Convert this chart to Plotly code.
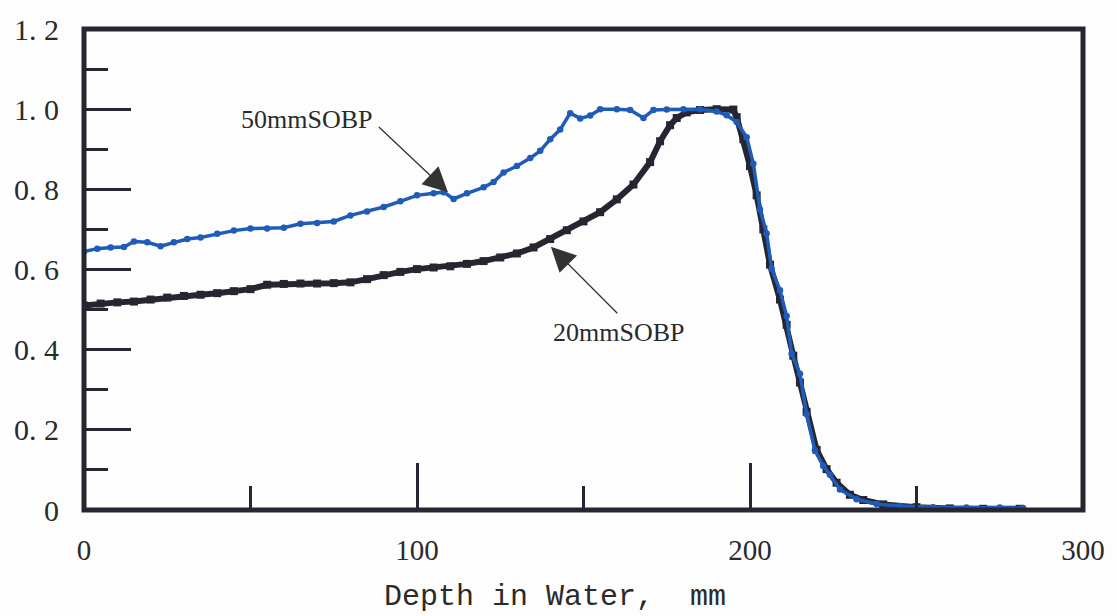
import plotly.graph_objects as go

# ---- data ----
sobp20_x = [0, 5, 10, 15, 20, 25, 30, 35, 40, 45, 50, 55, 60, 65, 70, 75, 80, 85, 90, 95,
            100, 105, 110, 115, 120, 125, 130, 135, 140, 145, 150, 155, 160, 165, 170,
            173, 176, 178, 181, 185, 190, 195, 196, 198, 200, 202, 204, 206, 209, 211,
            213, 215, 217, 220, 223, 226, 230, 234, 240, 250, 260, 270, 281]
sobp20_y = [0.510, 0.515, 0.518, 0.520, 0.525, 0.530, 0.534, 0.537, 0.541, 0.546, 0.551,
            0.562, 0.564, 0.565, 0.565, 0.566, 0.568, 0.576, 0.586, 0.594,
            0.601, 0.605, 0.608, 0.614, 0.621, 0.630, 0.640, 0.655, 0.676, 0.698,
            0.720, 0.743, 0.775, 0.812, 0.868,
            0.920, 0.960, 0.978, 0.992, 0.998, 1.000, 0.999, 0.980, 0.925, 0.858,
            0.785, 0.700, 0.612, 0.525, 0.462,
            0.385, 0.318, 0.245, 0.150, 0.102, 0.068, 0.038, 0.025, 0.014, 0.007,
            0.004, 0.003, 0.003]

sobp50_x = [0, 4, 8, 12, 15, 19, 23, 27, 31, 35, 40, 45, 50, 55, 60, 65, 70, 75, 80, 85,
            90, 95, 100, 105, 108, 111, 115, 120, 123, 126, 130, 134, 137, 140, 143,
            146, 149, 152, 155, 160, 164, 168, 171, 175, 180, 185, 190, 193, 196, 199,
            201, 203, 205, 206.5, 209, 211, 212.5, 215, 217, 219.5, 222, 224, 227, 232,
            238, 245, 255, 265, 275, 282]
sobp50_y = [0.645, 0.652, 0.655, 0.656, 0.670, 0.668, 0.658, 0.668, 0.676, 0.680,
            0.689, 0.697, 0.702, 0.702, 0.704, 0.714, 0.716, 0.720, 0.735, 0.745,
            0.756, 0.770, 0.785, 0.790, 0.793, 0.776, 0.790, 0.805, 0.818, 0.842,
            0.858, 0.878, 0.896, 0.925, 0.949,
            0.990, 0.977, 0.984, 1.000, 1.000, 0.998, 0.978, 0.998, 0.999, 1.000,
            1.000, 0.994, 0.985, 0.968, 0.930,
            0.864, 0.750, 0.690, 0.602, 0.548, 0.484, 0.390, 0.340, 0.239, 0.149,
            0.110, 0.088, 0.051, 0.027,
            0.015, 0.010, 0.007, 0.006, 0.006, 0.005]

y_tickvals = [0, 0.2, 0.4, 0.6, 0.8, 1.0, 1.2]
y_ticktext = ["0", "0. 2", "0. 4", "0. 6", "0. 8", "1. 0", "1. 2"]
x_tickvals = [0, 100, 200, 300]
x_ticktext = ["0", "100", "200", "300"]

DARK = "#262632"
BLUE = "#1f5cba"
TEXT = "#2a2a2a"

fig = go.Figure()
fig.add_trace(go.Scatter(
    x=sobp20_x, y=sobp20_y, mode="lines+markers", name="20mmSOBP",
    line=dict(color=DARK, width=6),
    marker=dict(symbol="square", size=8, color=DARK),
))
fig.add_trace(go.Scatter(
    x=sobp50_x, y=sobp50_y, mode="lines+markers", name="50mmSOBP",
    line=dict(color=BLUE, width=3.5),
    marker=dict(symbol="circle", size=6.5, color=BLUE),
))

fig.update_layout(
    width=1117, height=616,
    margin=dict(l=84, r=32, t=21, b=106),
    paper_bgcolor="#fefdfd", plot_bgcolor="#fefdfd",
    showlegend=False,
    xaxis=dict(
        range=[0, 300], showgrid=False, zeroline=False, showline=False,
        tickmode="array", tickvals=x_tickvals, ticktext=x_ticktext,
        ticks="inside", ticklen=47, tickwidth=3, tickcolor=DARK,
        minor=dict(dtick=50, ticks="inside", ticklen=24, tickwidth=3, tickcolor=DARK, showgrid=False),
        tickfont=dict(family="Liberation Serif", size=29, color=TEXT), ticklabelstandoff=20,
    ),
    yaxis=dict(
        range=[0, 1.2], showgrid=False, zeroline=False, showline=False,
        tickmode="array", tickvals=y_tickvals, ticktext=y_ticktext,
        ticks="inside", ticklen=47, tickwidth=3, tickcolor=DARK,
        minor=dict(dtick=0.1, ticks="inside", ticklen=24, tickwidth=3, tickcolor=DARK, showgrid=False),
        tickfont=dict(family="Liberation Serif", size=30, color=TEXT), ticklabelstandoff=24,
    ),
    shapes=[dict(type="rect", xref="paper", yref="paper", x0=0, y0=0, x1=1, y1=1,
                 line=dict(color=DARK, width=5), layer="above")],
    annotations=[
        dict(text="Depth in Water,  mm", xref="paper", yref="paper", x=0.4715, y=-0.18,
             showarrow=False, font=dict(family="Liberation Mono", size=30, color=TEXT),
             xanchor="center", yanchor="middle"),
        dict(text="50mmSOBP", x=67.0, y=0.975, xref="x", yref="y", showarrow=False,
             font=dict(family="Liberation Serif", size=26, color=TEXT),
             xanchor="center", yanchor="middle"),
        dict(text="", x=109.3, y=0.793, xref="x", yref="y", ax=88.1, ay=0.959,
             axref="x", ayref="y", showarrow=True, arrowhead=2, arrowsize=3.8,
             arrowwidth=1.3, arrowcolor="#333333"),
        dict(text="20mmSOBP", x=160.8, y=0.442, xref="x", yref="y", showarrow=False,
             font=dict(family="Liberation Serif", size=26, color=TEXT),
             xanchor="center", yanchor="middle"),
        dict(text="", x=140.2, y=0.657, xref="x", yref="y", ax=160.6, ay=0.487,
             axref="x", ayref="y", showarrow=True, arrowhead=2, arrowsize=3.8,
             arrowwidth=1.3, arrowcolor="#333333"),
    ],
)

fig.write_html("out.html")
